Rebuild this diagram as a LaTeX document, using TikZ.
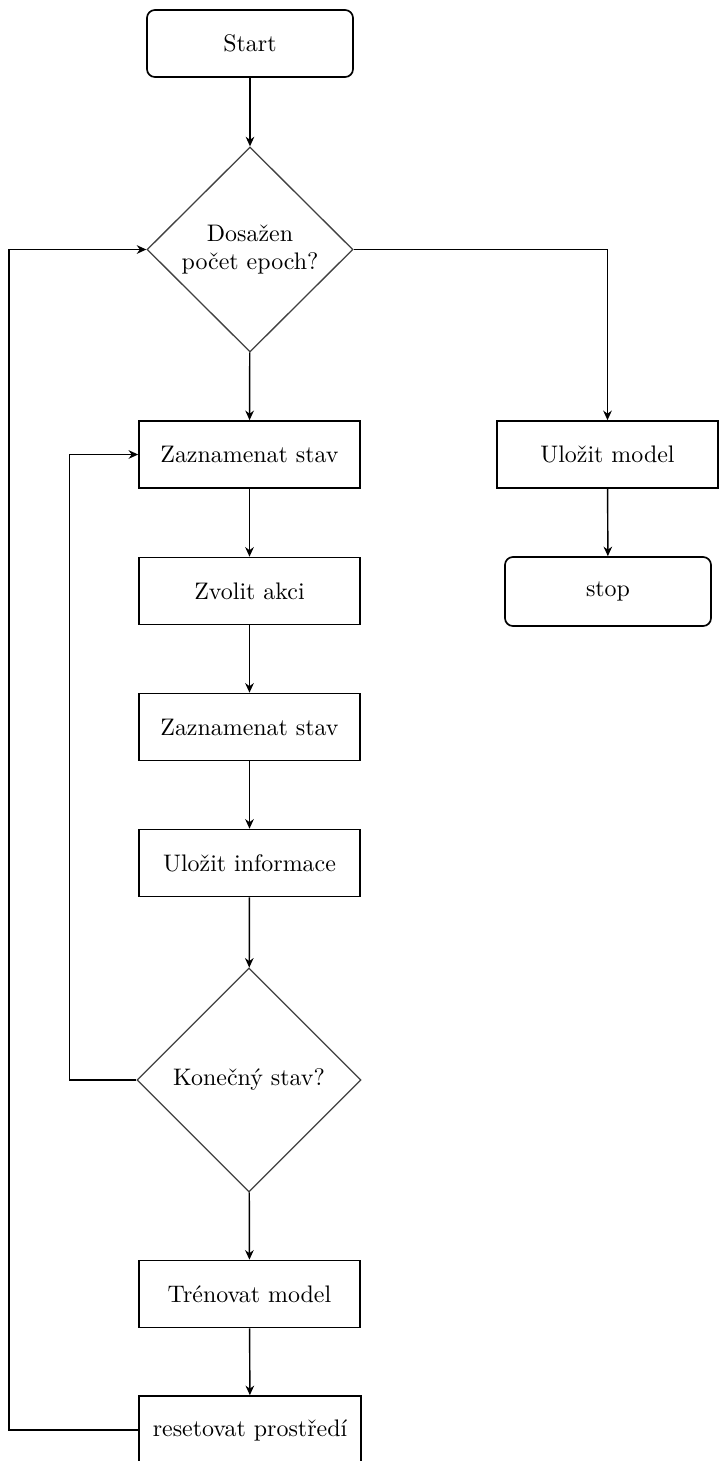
\documentclass[tikz,border=0pt]{standalone}
\usetikzlibrary{shapes.geometric,arrows.meta}
\begin{document}
\begin{tikzpicture}[x=0.418pt,y=-0.418pt,
  box/.style={draw, line width=0.7pt, minimum width=221*0.418pt, minimum height=67*0.418pt, inner sep=0pt},
  term/.style={box, rounded corners=3.3pt, minimum width=206*0.418pt},
  dec/.style={diamond, draw=black!75, line width=0.55pt, inner sep=0pt, align=center},
  arr/.style={-{Stealth[length=4pt,width=3.6pt]}, line width=0.6pt}]
\useasboundingbox (0,0) rectangle (726,1461);
\clip (0,0) rectangle (726,1461);
\node[term] (start) at (250,43.5) {Start};
\node[dec, minimum width=206*0.418pt, minimum height=205*0.418pt] (d1) at (250,249.5) {Dosažen\\počet epoch?};
\node[box] (z1) at (249.5,454.5) {Zaznamenat stav};
\node[box] (save) at (607.5,454.5) {Uložit model};
\node[term, minimum height=69*0.418pt] (stop) at (608,591.5) {stop};
\node[box] (zv) at (249.5,591) {Zvolit akci};
\node[box] (z2) at (249.5,727) {Zaznamenat stav};
\node[box] (ui) at (249.5,863) {Uložit informace};
\node[dec, minimum width=224*0.418pt, minimum height=224*0.418pt] (d2) at (249,1080) {Konečný stav?};
\node[box] (tr) at (249.5,1294) {Trénovat model};
\node[box, minimum width=222*0.418pt, minimum height=68*0.418pt] (reset) at (250,1430) {resetovat prostředí};
\draw[arr] (start) -- (d1);
\draw[arr] (d1.east) -| (save.north);
\draw[arr] (save) -- (stop);
\draw[arr] (d1) -- (z1);
\draw[arr] (z1) -- (zv);
\draw[arr] (zv) -- (z2);
\draw[arr] (z2) -- (ui);
\draw[arr] (ui) -- (d2);
\draw[arr] (d2.west) -- ++(-67,0) |- (z1.west);
\draw[arr] (d2) -- (tr);
\draw[arr] (tr) -- (reset);
\draw[arr] (reset.west) -- ++(-129,0) |- (d1.west);
\end{tikzpicture}
\end{document}
